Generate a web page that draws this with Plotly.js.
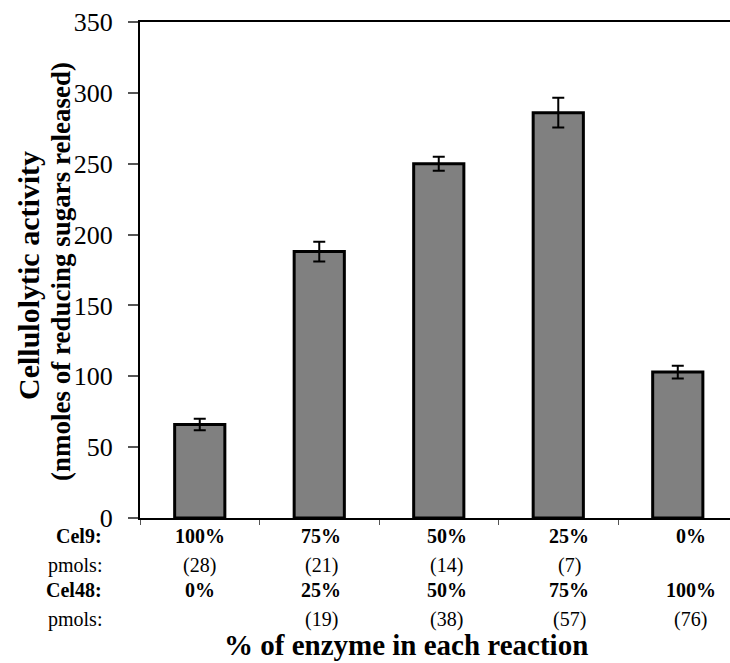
<!DOCTYPE html>
<html>
<head>
<meta charset="utf-8">
<script src="https://cdn.plot.ly/plotly-3.0.1.min.js"></script>
<style>html,body{margin:0;padding:0;background:#fff;}#chart{width:730px;height:663px;}</style>
</head>
<body>
<div id="chart"></div>
<script>
// ---- data ----
const cel9Pct = ["100%", "75%", "50%", "25%", "0%"];
const cel9Pmol = ["(28)", "(21)", "(14)", "(7)", ""];
const cel48Pct = ["0%", "25%", "50%", "75%", "100%"];
const cel48Pmol = ["", "(19)", "(38)", "(57)", "(76)"];
const activity = [66, 188, 250, 286, 103];
const activityErr = [4, 7, 5, 10.5, 4.5];
const rowLabels = ["Cel9:", "pmols:", "Cel48:", "pmols:"];
const yTitle1 = "Cellulolytic activity";
const yTitle2 = "(nmoles of reducing sugars released)";
const xTitle = "% of enzyme in each reaction";

const categories = cel9Pct.map((c, i) => "r" + i);

const serif = "Liberation Serif";

const trace = {
  type: "bar",
  x: categories,
  y: activity,
  width: 0.42,
  marker: { color: "#808080", line: { color: "#000", width: 3 } },
  error_y: { type: "data", array: activityErr, visible: true, color: "#000", thickness: 2, width: 6 },
  hoverinfo: "skip"
};

const annotations = [];
const rows = [
  { vals: cel9Pct, bold: true, dy: 18 },
  { vals: cel9Pmol, bold: false, dy: 47 },
  { vals: cel48Pct, bold: true, dy: 72 },
  { vals: cel48Pmol, bold: false, dy: 101 }
];
const colShift = [0, 2, 8, 11, 13];
rows.forEach((row, r) => {
  annotations.push({
    xref: "paper", yref: "paper", x: 0, y: 0, xshift: -36, yshift: -row.dy,
    xanchor: "right", yanchor: "middle", showarrow: false,
    text: row.bold ? "<b>" + rowLabels[r] + "</b>" : rowLabels[r],
    font: { family: serif, size: 20, color: "#000" }
  });
  row.vals.forEach((v, i) => {
    if (!v) return;
    annotations.push({
      xref: "x", yref: "paper", x: categories[i], y: 0, xshift: colShift[i], yshift: -row.dy,
      xanchor: "center", yanchor: "middle", showarrow: false,
      text: row.bold ? "<b>" + v + "</b>" : v,
      font: { family: serif, size: 20, color: "#000" }
    });
  });
});
annotations.push({
  xref: "paper", yref: "paper", x: 0, y: 0, xshift: 406 - 140, yshift: -127,
  xanchor: "center", yanchor: "middle", showarrow: false,
  text: "<b>" + xTitle + "</b>",
  font: { family: serif, size: 29, color: "#000" }
});
annotations.push({
  xref: "paper", yref: "paper", x: 0, y: (518 - 276) / 496, xshift: 28 - 140,
  xanchor: "center", yanchor: "middle", showarrow: false, textangle: -90,
  text: "<b>" + yTitle1 + "</b>",
  font: { family: serif, size: 30, color: "#000" }
});
annotations.push({
  xref: "paper", yref: "paper", x: 0, y: (518 - 272) / 496, xshift: 61 - 140,
  xanchor: "center", yanchor: "middle", showarrow: false, textangle: -90,
  text: "<b>" + yTitle2 + "</b>",
  font: { family: serif, size: 27, color: "#000" }
});

const layout = {
  width: 730, height: 663,
  margin: { l: 140, r: 0, t: 22, b: 145, pad: 0 },
  paper_bgcolor: "#fff", plot_bgcolor: "#fff",
  showlegend: false,
  xaxis: {
    type: "category", range: [-0.5, 4.437],
    showline: true, linecolor: "#000", linewidth: 2, mirror: true,
    ticks: "outside", tickson: "boundaries", ticklen: 5, tickwidth: 1, tickcolor: "#555",
    showticklabels: false, showgrid: false, zeroline: false, fixedrange: true
  },
  yaxis: {
    range: [0, 350], dtick: 50, tick0: 0,
    showline: true, linecolor: "#000", linewidth: 2,
    ticks: "outside", ticklen: 10, tickwidth: 2, tickcolor: "#555",
    ticklabelstandoff: 10,
    tickfont: { family: serif, size: 26, color: "#000" },
    showgrid: false, zeroline: false, fixedrange: true
  },
  annotations: annotations
};

Plotly.newPlot("chart", [trace], layout, { displayModeBar: false, staticPlot: true });
</script>
</body>
</html>
